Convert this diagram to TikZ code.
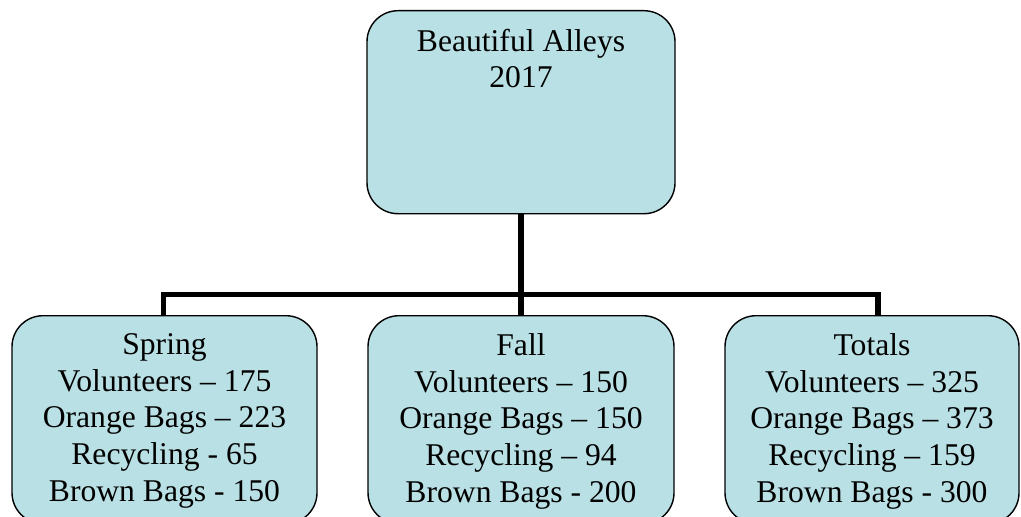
\documentclass[tikz,border=0pt]{standalone}
\usepackage{fontspec}
\setmainfont{Liberation Serif}
\usetikzlibrary{positioning}
\definecolor{panelblue}{RGB}{185,224,228}
\tikzstyle{panel}=[rectangle,draw=black,line width=0.8pt,fill=panelblue,rounded corners=0.62cm,anchor=north]
\tikzstyle{caption}=[align=center,inner sep=0pt,anchor=north,font=\fontsize{18}{20.8}\selectfont]
\tikzstyle{link}=[line width=3.4pt]

\begin{document}
\begin{tikzpicture}
	\clip (0,0) rectangle (20.42,-10.34);
	\useasboundingbox (0,0) rectangle (20.42,-10.34);

	\node[panel,minimum width=6.16cm,minimum height=4.06cm] (root) at (10.42,-0.2) {};

	\coordinate (busL) at (3.27,-5.89);
	\coordinate (busR) at (17.56,-5.89);

	\node[panel,minimum width=6.10cm,minimum height=4.16cm] (spring) at (3.29,-6.3) {};
	\node[panel,minimum width=6.12cm,minimum height=4.16cm] (fall) at (10.42,-6.3) {};
	\node[panel,minimum width=5.88cm,minimum height=4.16cm] (totals) at (17.44,-6.3) {};

	\draw[link] (root.south) -- (fall.north);
	\draw[link] (spring.north -| busL) -- (busL) -- (busR) -- (totals.north -| busR);

	\node[caption,below=0.37cm of root.north] (rootText) {Beautiful Alleys\\2017};
	\node[caption,below=0.37cm of spring.north] (springText) {Spring\\Volunteers -- 175\\Orange Bags -- 223\\Recycling - 65\\Brown Bags - 150};
	\node[caption,below=0.37cm of fall.north] (fallText) {Fall\\Volunteers -- 150\\Orange Bags -- 150\\Recycling -- 94\\Brown Bags - 200};
	\node[caption,below=0.37cm of totals.north] (totalsText) {Totals\\Volunteers -- 325\\Orange Bags -- 373\\Recycling -- 159\\Brown Bags - 300};
\end{tikzpicture}
\end{document}
